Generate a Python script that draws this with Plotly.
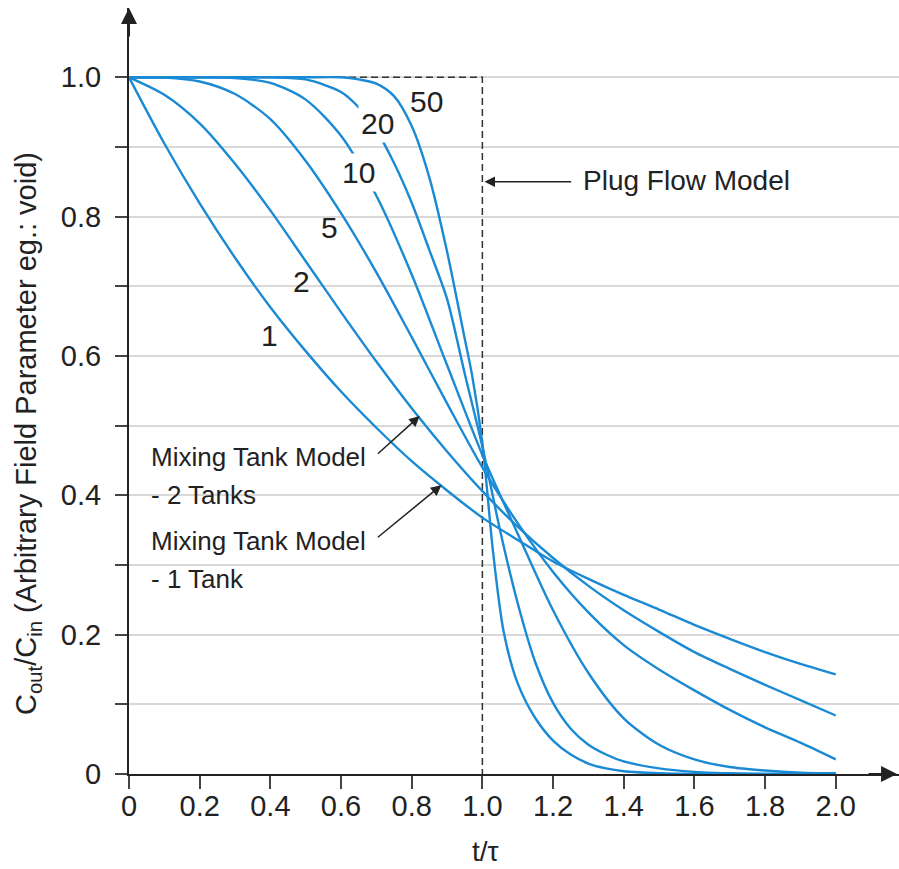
import plotly.graph_objects as go

# ---------------- data ----------------
theta = [0.0, 0.1, 0.2, 0.3, 0.4, 0.5, 0.6, 0.7, 0.8, 0.9, 1.0,
         1.1, 1.2, 1.3, 1.4, 1.5, 1.6, 1.7, 1.8, 1.9, 2.0]

n1 = [1.0, 0.905, 0.819, 0.741, 0.670, 0.607, 0.549, 0.497, 0.449, 0.407, 0.368,
      0.336, 0.305, 0.280, 0.257, 0.236, 0.214, 0.194, 0.175, 0.158, 0.143]
n2 = [1.0, 0.975, 0.934, 0.876, 0.809, 0.736, 0.663, 0.592, 0.525, 0.463, 0.406,
      0.355, 0.310, 0.270, 0.235, 0.204, 0.175, 0.151, 0.128, 0.106, 0.084]
n5 = [1.0, 0.9995, 0.994, 0.976, 0.940, 0.880, 0.805, 0.720, 0.627, 0.532, 0.440,
      0.360, 0.290, 0.232, 0.185, 0.150, 0.120, 0.092, 0.067, 0.045, 0.021]
n10 = [1.0, 1.0, 1.0, 0.999, 0.992, 0.968, 0.916, 0.830, 0.717, 0.587, 0.458,
       0.345, 0.235, 0.145, 0.080, 0.042, 0.021, 0.010, 0.005, 0.002, 0.001]

theta_20 = [0.0, 0.1, 0.2, 0.3, 0.4, 0.5, 0.6, 0.65, 0.7, 0.75, 0.8, 0.85, 0.9, 0.95, 1.0,
            1.05, 1.1, 1.15, 1.2, 1.25, 1.3, 1.35, 1.4, 1.5, 1.6, 1.7, 1.8, 1.9, 2.0]
n20 = [1.0, 1.0, 1.0, 1.0, 1.0, 0.997, 0.979, 0.957, 0.924, 0.877, 0.820, 0.752, 0.682, 0.575, 0.470,
       0.350, 0.245, 0.160, 0.102, 0.065, 0.042, 0.028, 0.018, 0.008, 0.003, 0.001, 0.0, 0.0, 0.0]

theta_50 = [0.0, 0.1, 0.2, 0.3, 0.4, 0.5, 0.6, 0.65, 0.7, 0.75, 0.8, 0.85, 0.9, 0.95, 0.97, 1.0,
            1.03, 1.06, 1.1, 1.15, 1.2, 1.25, 1.3, 1.35, 1.4, 1.5, 1.6, 1.7, 1.8, 1.9, 2.0]
n50 = [1.0, 1.0, 1.0, 1.0, 1.0, 1.0, 1.0, 0.997, 0.991, 0.973, 0.930, 0.856, 0.750, 0.625, 0.575, 0.475,
       0.320, 0.205, 0.130, 0.080, 0.048, 0.028, 0.015, 0.008, 0.004, 0.001, 0.0, 0.0, 0.0, 0.0, 0.0]

plug_x = [0.0, 1.0, 1.0]
plug_y = [1.0, 1.0, 0.0]

x_tickvals = [0.0, 0.2, 0.4, 0.6, 0.8, 1.0, 1.2, 1.4, 1.6, 1.8, 2.0]
x_ticktext = ["0", "0.2", "0.4", "0.6", "0.8", "1.0", "1.2", "1.4", "1.6", "1.8", "2.0"]
y_tickvals = [0.0, 0.2, 0.4, 0.6, 0.8, 1.0]
y_ticktext = ["0", "0.2", "0.4", "0.6", "0.8", "1.0"]
y_minorvals = [0.1, 0.3, 0.5, 0.7, 0.9]

curve_labels = ["50", "20", "10", "5", "2", "1"]
curve_label_x = [0.842, 0.704, 0.650, 0.567, 0.488, 0.397]
curve_label_y = [0.965, 0.934, 0.863, 0.785, 0.707, 0.630]
curve_label_bg = [False, True, True, False, False, False]

# ---------------- styling ----------------
BLUE = "#1a8ad4"
DARK = "#222222"
FONT = "Liberation Sans, Arial, sans-serif"

fig = go.Figure()

fig.add_trace(go.Scatter(x=plug_x, y=plug_y, mode="lines",
                         line=dict(color="#333333", width=1.5, dash="7px,4px"),
                         hoverinfo="skip", showlegend=False))

for xs, ys in [(theta, n1), (theta, n2), (theta, n5), (theta, n10),
               (theta_20, n20), (theta_50, n50)]:
    fig.add_trace(go.Scatter(x=xs, y=ys, mode="lines",
                             line=dict(color=BLUE, width=2.4, shape="spline", smoothing=0.8),
                             hoverinfo="skip", showlegend=False))

annotations = []
for t, x, y, bg in zip(curve_labels, curve_label_x, curve_label_y, curve_label_bg):
    annotations.append(dict(x=x, y=y, xref="x", yref="y", text=t, showarrow=False,
                            xanchor="center", yanchor="middle",
                            font=dict(family=FONT, size=30, color=DARK),
                            bgcolor="white" if bg else None, borderpad=2))

# Plug flow label + arrow
annotations.append(dict(x=1.280, y=0.852, xref="x", yref="y", text="Plug Flow Model",
                        showarrow=False, xanchor="left", yanchor="middle",
                        font=dict(family=FONT, size=28, color=DARK)))
annotations.append(dict(x=1.006, y=0.850, ax=1.2555, ay=0.850, xref="x", yref="y",
                        axref="x", ayref="y", text="", showarrow=True,
                        arrowhead=2, arrowsize=1.4, arrowwidth=1.5, arrowcolor=DARK))

# Mixing tank labels
mix_lines = ["Mixing Tank Model", "- 2 Tanks", "Mixing Tank Model", "- 1 Tank"]
mix_y = [0.455, 0.401, 0.334, 0.280]
for t, y in zip(mix_lines, mix_y):
    annotations.append(dict(x=0.0566, y=y, xref="x", yref="y", text=t, showarrow=False,
                            xanchor="left", yanchor="middle",
                            font=dict(family=FONT, size=26, color=DARK)))
annotations.append(dict(x=0.8226, y=0.5138, ax=0.700, ay=0.4577, xref="x", yref="y",
                        axref="x", ayref="y", text="", showarrow=True,
                        arrowhead=2, arrowsize=1.4, arrowwidth=1.5, arrowcolor=DARK))
annotations.append(dict(x=0.884, y=0.4146, ax=0.700, ay=0.338, xref="x", yref="y",
                        axref="x", ayref="y", text="", showarrow=True,
                        arrowhead=2, arrowsize=1.4, arrowwidth=1.5, arrowcolor=DARK))

# Axis arrowheads
annotations.append(dict(x=0.9975, y=0, xref="paper", yref="paper", ax=-30, ay=0,
                        text="", showarrow=True, arrowhead=2, arrowsize=1.6,
                        arrowwidth=2, arrowcolor=DARK))
annotations.append(dict(x=0, y=1.0, xref="paper", yref="paper", ax=0, ay=30,
                        text="", showarrow=True, arrowhead=2, arrowsize=1.6,
                        arrowwidth=2, arrowcolor=DARK))

# Axis titles
annotations.append(dict(x=1.01, y=0, xref="x", yref="paper", yshift=-77,
                        text="t/τ", showarrow=False, xanchor="center", yanchor="middle",
                        font=dict(family=FONT, size=28, color=DARK)))
annotations.append(dict(x=-0.131, y=0.444, xref="paper", yref="paper",
                        text="C<sub>out</sub>/C<sub>in</sub> (Arbitrary Field Parameter eg.: void)",
                        textangle=-90, showarrow=False, xanchor="center", yanchor="middle",
                        font=dict(family=FONT, size=29, color=DARK)))

fig.update_layout(
    width=899, height=869,
    margin=dict(l=129, r=0, t=8, b=95),
    paper_bgcolor="white", plot_bgcolor="white",
    showlegend=False,
    annotations=annotations,
    xaxis=dict(range=[0, 2.179], showgrid=False, zeroline=False,
               showline=True, linecolor=DARK, linewidth=2,
               tickmode="array", tickvals=x_tickvals, ticktext=x_ticktext,
               ticks="outside", ticklen=13, tickwidth=1.5, tickcolor="#444444",
               tickfont=dict(family=FONT, size=29, color=DARK),
               ticklabelstandoff=-8),
    yaxis=dict(range=[0, 1.0995], showgrid=True, gridcolor="#d9d9d9", gridwidth=1.5,
               zeroline=False, showline=True, linecolor=DARK, linewidth=2,
               tickmode="array", tickvals=y_tickvals, ticktext=y_ticktext,
               ticks="outside", ticklen=12, tickwidth=1.5, tickcolor="#444444",
               tickfont=dict(family=FONT, size=29, color=DARK),
               ticklabelstandoff=8,
               minor=dict(tickmode="array", tickvals=y_minorvals, ticks="outside",
                          ticklen=12, tickwidth=1.5, tickcolor="#444444",
                          showgrid=True, gridcolor="#d9d9d9", gridwidth=1.5)),
)

fig.write_html("out.html")
